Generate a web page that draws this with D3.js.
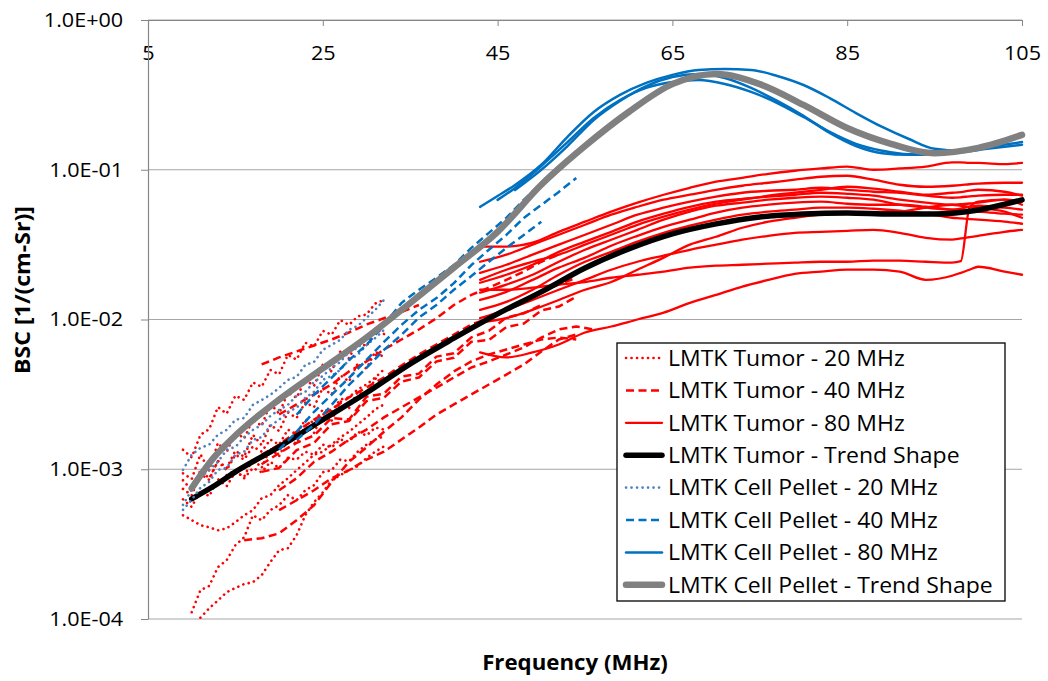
<!DOCTYPE html>
<html>
<head>
<meta charset="utf-8">
<script src="https://cdn.jsdelivr.net/npm/d3@7"></script>
<style>
  body { margin: 0; background: #fff; }
  text { font-family: "Open Sans", "Liberation Sans", sans-serif; fill: #000; }
</style>
</head>
<body>
<script>
// ---- data ----
var xTicks = [5, 25, 45, 65, 85, 105];
var yTicks = [1e-4, 1e-3, 1e-2, 1e-1, 1];
var yTickLabels = ["1.0E-04", "1.0E-03", "1.0E-02", "1.0E-01", "1.0E+00"];

var seriesNames = [
  "LMTK Tumor - 20 MHz",
  "LMTK Tumor - 40 MHz",
  "LMTK Tumor - 80 MHz",
  "LMTK Tumor - Trend Shape",
  "LMTK Cell Pellet - 20 MHz",
  "LMTK Cell Pellet - 40 MHz",
  "LMTK Cell Pellet - 80 MHz",
  "LMTK Cell Pellet - Trend Shape"
];

var tumor20Freq = [9, 10, 11, 12, 13, 14, 15, 16, 17, 18, 19, 20, 21, 22, 23, 24, 25, 26, 27, 28, 29, 30, 31, 32];
var tumor20 = [
  [null, 1.11e-4, 1.56e-4, 1.66e-4, 2.22e-4, 2.47e-4, 3.11e-4, 3.51e-4, 4.93e-4, 4.57e-4, 5.33e-4, 5.75e-4, 6.71e-4, 6.21e-4, 7.24e-4, 7.82e-4, 9.55e-4, 9.85e-4, 1.16e-3, 1.13e-3, 1.31e-3, 1.46e-3, 1.58e-3, 1.66e-3],
  [null, null, 1.02e-4, 1.18e-4, 1.33e-4, 1.51e-4, 1.61e-4, 1.71e-4, 1.76e-4, 1.96e-4, 2.40e-4, 2.88e-4, 2.97e-4, 3.62e-4, 4.93e-4, 6.03e-4, 7.02e-4, 8.45e-4, 9.12e-4, 9.85e-4, 1.05e-3, 1.19e-3, 1.31e-3, 1.42e-3],
  [4.93e-4, 4.57e-4, 4.23e-4, 4.10e-4, 3.91e-4, 4.03e-4, 4.43e-4, 4.93e-4, 5.33e-4, 6.40e-4, 6.71e-4, 7.82e-4, 8.70e-4, 9.85e-4, 1.11e-3, 1.25e-3, 1.31e-3, 1.46e-3, 1.63e-3, 1.78e-3, 1.99e-3, 2.22e-3, 2.51e-3, 2.71e-3],
  [1.35e-3, 1.20e-3, 1.70e-3, 1.85e-3, 2.60e-3, 2.35e-3, 3.10e-3, 2.90e-3, 3.80e-3, 3.55e-3, 4.60e-3, 4.30e-3, 5.80e-3, 5.40e-3, 7.00e-3, 6.60e-3, 8.40e-3, 7.90e-3, 9.90e-3, 9.20e-3, 1.05e-2, 1.08e-2, 1.28e-2, 1.35e-2],
  [9.40e-4, 8.60e-4, 1.26e-3, 9.80e-4, 1.50e-3, 1.30e-3, 1.78e-3, 1.60e-3, 2.15e-3, 1.95e-3, 2.75e-3, 2.35e-3, 3.25e-3, 3.00e-3, 3.95e-3, 3.60e-3, 5.00e-3, 4.50e-3, 6.10e-3, 5.50e-3, 7.20e-3, 6.60e-3, 8.70e-3, 8.00e-3],
  [7.40e-4, 6.70e-4, 9.30e-4, 8.50e-4, 1.14e-3, 1.02e-3, 1.33e-3, 1.21e-3, 1.70e-3, 1.45e-3, 1.98e-3, 1.80e-3, 2.40e-3, 2.20e-3, 2.80e-3, 2.60e-3, 3.50e-3, 3.15e-3, 4.25e-3, 3.85e-3, 5.10e-3, 4.70e-3, 6.10e-3, 5.60e-3],
  [6.30e-4, 5.60e-4, 7.20e-4, 6.60e-4, 8.60e-4, 7.70e-4, 9.60e-4, 8.90e-4, 1.18e-3, 1.02e-3, 1.38e-3, 1.22e-3, 1.60e-3, 1.48e-3, 1.95e-3, 1.75e-3, 2.35e-3, 2.10e-3, 2.85e-3, 2.55e-3, 3.30e-3, 3.05e-3, 4.05e-3, 3.70e-3],
  [8.45e-4, 7.24e-4, 9.85e-4, 8.70e-4, 1.13e-3, 9.85e-4, 1.25e-3, 1.16e-3, 1.42e-3, 1.31e-3, 1.58e-3, 1.46e-3, 1.84e-3, 1.71e-3, 2.15e-3, 2.05e-3, 2.51e-3, 2.43e-3, 2.92e-3, 3.02e-3, 3.41e-3, 3.68e-3, 4.10e-3, 4.64e-3],
  [null, null, null, null, null, 9.12e-4, 9.85e-4, 8.71e-4, 1.02e-3, 9.55e-4, 1.12e-3, 1.02e-3, 1.19e-3, 1.16e-3, 1.31e-3, 1.25e-3, 1.46e-3, 1.40e-3, 1.58e-3, 1.53e-3, 1.78e-3, 1.68e-3, 1.90e-3, 1.84e-3]
];

var tumor40Freq = [16, 18, 20, 22, 24, 26, 28, 30, 32, 34, 36, 38, 40, 42, 44, 46, 48, 50, 52, 54, 56];
var tumor40 = [
  [3.36e-4, 3.46e-4, 3.73e-4, 4.57e-4, 5.75e-4, 8.19e-4, 1.12e-3, 1.40e-3, 1.78e-3, 2.22e-3, 2.92e-3, 3.68e-3, 4.50e-3, 5.25e-3, 5.84e-3, 6.31e-3, 6.81e-3, 7.35e-3, 7.58e-3, 7.35e-3, null],
  [null, 5.01e-3, 5.58e-3, 6.12e-3, 6.71e-3, 7.35e-3, 8.19e-3, 9.26e-3, 1.02e-2, 1.12e-2, 1.25e-2, null, null, null, null, null, null, null, null, null, null],
  [null, null, 2.32e-3, 2.71e-3, 3.16e-3, 3.68e-3, 4.50e-3, 5.25e-3, 6.31e-3, 7.35e-3, 8.58e-3, 1.02e-2, 1.25e-2, 1.46e-2, 1.63e-2, 1.84e-2, 2.09e-2, 2.43e-2, 2.71e-2, null, null],
  [null, 1.25e-3, 1.46e-3, 1.78e-3, 2.15e-3, 2.51e-3, 3.02e-3, 3.51e-3, 4.10e-3, 4.93e-3, 5.84e-3, 6.81e-3, 7.94e-3, 9.26e-3, 1.02e-2, 1.16e-2, 1.35e-2, 1.53e-2, 1.71e-2, 1.90e-2, null],
  [null, 9.60e-4, 1.02e-3, 1.34e-3, 1.50e-3, 2.00e-3, 2.10e-3, 2.85e-3, 3.00e-3, 3.85e-3, 4.10e-3, 5.25e-3, 5.55e-3, 7.10e-3, 7.30e-3, 8.90e-3, 9.40e-3, 1.15e-2, 1.22e-2, 1.42e-2, null],
  [null, null, 7.24e-4, 8.71e-4, 1.12e-3, 1.31e-3, 1.58e-3, 1.84e-3, 2.22e-3, 2.59e-3, 3.02e-3, 3.51e-3, 4.10e-3, 4.78e-3, 5.25e-3, 5.84e-3, 6.50e-3, 7.58e-3, 8.58e-3, 8.98e-3, 8.58e-3],
  [null, null, 5.33e-4, 6.21e-4, 7.24e-4, 8.71e-4, 9.85e-4, 1.16e-3, 1.31e-3, 1.58e-3, 1.90e-3, 2.32e-3, 2.71e-3, 3.16e-3, 3.68e-3, 4.29e-3, 5.01e-3, 6.12e-3, 7.35e-3, 7.94e-3, null],
  [null, 1.08e-3, 1.28e-3, 1.50e-3, 1.68e-3, 2.20e-3, 2.15e-3, 3.05e-3, 3.20e-3, 4.15e-3, 4.35e-3, 5.65e-3, 5.95e-3, 7.60e-3, 8.40e-3, 1.03e-2, 1.10e-2, 1.25e-2, null, null, null]
];

var tumor80Freq = [43, 46, 49, 52, 55, 58, 61, 64, 67, 70, 73, 76, 79, 82, 85, 88, 91, 94, 97, 98, 99, 100, 103, 105];
var tumor80 = [
  [3.07e-2, 3.07e-2, 3.26e-2, 3.85e-2, 4.50e-2, 5.25e-2, 6.03e-2, 6.81e-2, 7.58e-2, 8.32e-2, 8.84e-2, 9.40e-2, 9.85e-2, 0.102, 0.105, 0.100, 0.102, 0.105, 0.112, 0.112, 0.111, 0.111, 0.109, 0.111],
  [2.43e-2, 2.71e-2, 3.16e-2, 3.68e-2, 4.29e-2, 5.01e-2, 5.66e-2, 6.31e-2, 6.81e-2, 7.35e-2, 7.82e-2, 8.19e-2, 8.58e-2, 8.98e-2, 9.12e-2, 8.58e-2, 7.94e-2, 7.70e-2, 7.82e-2, 7.90e-2, 8.00e-2, 8.07e-2, 8.19e-2, 8.19e-2],
  [2.05e-2, 2.32e-2, 2.71e-2, 3.16e-2, 3.68e-2, 4.29e-2, 5.01e-2, 5.58e-2, 6.12e-2, 6.61e-2, 7.02e-2, 7.24e-2, 7.35e-2, 7.58e-2, 7.35e-2, 7.13e-2, 7.02e-2, 6.71e-2, 6.50e-2, 6.55e-2, 6.65e-2, 6.71e-2, 6.81e-2, 6.81e-2],
  [1.76e-2, 1.99e-2, 2.32e-2, 2.83e-2, 3.31e-2, 3.85e-2, 4.50e-2, 5.09e-2, 5.66e-2, 6.12e-2, 6.40e-2, 6.61e-2, 6.81e-2, 7.02e-2, 6.91e-2, 6.71e-2, 6.31e-2, 6.03e-2, 5.84e-2, 5.90e-2, 5.95e-2, 6.03e-2, 6.31e-2, 6.12e-2],
  [1.51e-2, 1.71e-2, 1.99e-2, 2.43e-2, 2.92e-2, 3.41e-2, 3.97e-2, 4.64e-2, 5.25e-2, 5.75e-2, 6.03e-2, 6.31e-2, 6.50e-2, 6.61e-2, 6.50e-2, 6.31e-2, 5.84e-2, 5.58e-2, 5.41e-2, 5.50e-2, 5.65e-2, 5.75e-2, 5.58e-2, 5.41e-2],
  [1.35e-2, 1.53e-2, 1.84e-2, 2.22e-2, 2.59e-2, 3.11e-2, 3.62e-2, 4.16e-2, 4.64e-2, 5.17e-2, 5.58e-2, 5.84e-2, 6.03e-2, 6.12e-2, 5.93e-2, 5.84e-2, 5.84e-2, 5.66e-2, 5.41e-2, 5.35e-2, 5.30e-2, 5.25e-2, 5.09e-2, 5.01e-2],
  [1.58e-2, 1.58e-2, 1.63e-2, 1.71e-2, 1.78e-2, 1.90e-2, 1.99e-2, 2.09e-2, 2.22e-2, 2.29e-2, 2.32e-2, 2.36e-2, 2.40e-2, 2.43e-2, 2.43e-2, 2.47e-2, 2.47e-2, 2.43e-2, 2.40e-2, 2.45e-2, 5.60e-2, 6.12e-2, 6.31e-2, 5.84e-2],
  [1.02e-2, 1.16e-2, 1.35e-2, 1.58e-2, 1.84e-2, 2.15e-2, 2.43e-2, 2.67e-2, 2.92e-2, 3.16e-2, 3.41e-2, 3.62e-2, 3.79e-2, 3.85e-2, 3.91e-2, 3.97e-2, 3.79e-2, 3.51e-2, 3.41e-2, 3.48e-2, 3.55e-2, 3.62e-2, 3.85e-2, 3.97e-2],
  [6.03e-3, 5.58e-3, 6.03e-3, 6.81e-3, 8.19e-3, 8.98e-3, 1.00e-2, 1.11e-2, 1.29e-2, 1.46e-2, 1.66e-2, 1.84e-2, 2.02e-2, 2.09e-2, 2.15e-2, 2.15e-2, 2.09e-2, 1.84e-2, 1.96e-2, 2.05e-2, 2.15e-2, 2.25e-2, 2.09e-2, 1.99e-2],
  [9.55e-3, 1.02e-2, 1.16e-2, 1.35e-2, 1.58e-2, 1.78e-2, 2.15e-2, 2.59e-2, 3.16e-2, 3.57e-2, 4.10e-2, 4.50e-2, 4.78e-2, 5.01e-2, 5.17e-2, 5.17e-2, 5.25e-2, 5.58e-2, 5.84e-2, 5.75e-2, 5.65e-2, 5.58e-2, 5.25e-2, 4.78e-2],
  [1.84e-2, 2.15e-2, 2.43e-2, 2.71e-2, 3.16e-2, 3.68e-2, 4.29e-2, 4.86e-2, 5.41e-2, 5.93e-2, 6.31e-2, 6.71e-2, 7.02e-2, 7.35e-2, 7.70e-2, 7.47e-2, 7.13e-2, 6.81e-2, 7.02e-2, 7.10e-2, 7.25e-2, 7.35e-2, 7.13e-2, 6.71e-2],
  [1.16e-2, 1.31e-2, 1.58e-2, 1.99e-2, 2.43e-2, 2.83e-2, 3.31e-2, 3.79e-2, 4.23e-2, 4.64e-2, 5.01e-2, 5.25e-2, 5.41e-2, 5.58e-2, 5.58e-2, 5.49e-2, 5.33e-2, 5.09e-2, 4.78e-2, 4.73e-2, 4.68e-2, 4.64e-2, 4.50e-2, 4.36e-2]
];

var tumorTrendFreq = [10, 12.5, 15, 20, 25, 30, 35, 40, 45, 50, 55, 60, 65, 70, 75, 80, 85, 90, 95, 100, 105];
var tumorTrend = [6.34e-4, 7.70e-4, 9.60e-4, 1.41e-3, 2.14e-3, 3.24e-3, 5.06e-3, 7.50e-3, 1.09e-2, 1.53e-2, 2.21e-2, 2.96e-2, 3.73e-2, 4.35e-2, 4.84e-2, 5.07e-2, 5.15e-2, 5.07e-2, 5.07e-2, 5.39e-2, 6.29e-2];

var pellet20Freq = [9, 10, 11, 12, 13, 14, 15, 16, 17, 18, 19, 20, 21, 22, 23, 24, 25, 26, 27, 28, 29, 30, 31, 32];
var pellet20 = [
  [9.91e-4, 1.25e-3, 1.39e-3, 1.46e-3, 1.70e-3, 1.83e-3, 2.14e-3, 2.20e-3, 2.69e-3, 2.90e-3, 3.14e-3, 3.49e-3, 3.95e-3, 4.14e-3, 4.98e-3, 5.21e-3, 6.27e-3, 6.76e-3, 7.31e-3, 8.53e-3, 9.06e-3, 1.025e-2, 1.159e-2, 1.352e-2],
  [5.78e-4, 7.29e-4, 8.77e-4, 9.91e-4, 1.12e-3, 1.35e-3, 1.41e-3, 1.64e-3, 1.83e-3, 1.98e-3, 2.27e-3, 2.49e-3, 2.69e-3, 3.09e-3, 3.29e-3, 3.83e-3, 4.20e-3, 4.75e-3, 5.21e-3, 6.08e-3, 6.46e-3, 7.53e-3, 8.26e-3, 9.64e-3],
  [5.36e-4, 6.25e-4, 7.52e-4, 8.24e-4, 9.91e-4, 1.02e-3, 1.25e-3, 1.31e-3, 1.57e-3, 1.64e-3, 1.95e-3, 2.14e-3, 2.42e-3, 2.57e-3, 3.00e-3, 3.29e-3, 3.95e-3, 4.20e-3, 4.61e-3, 5.37e-3, 5.81e-3, 6.76e-3, 7.53e-3, 8.53e-3]
];

var pellet40Freq = [20, 22, 24, 26, 28, 30, 32, 34, 36, 38, 40, 42, 44, 46, 48, 50, 52, 54];
var pellet40 = [
  [null, 2.31e-3, 3.14e-3, 4.07e-3, 5.37e-3, 6.76e-3, 9.20e-3, 1.29e-2, 1.58e-2, 1.90e-2, 2.31e-2, 3.01e-2, 3.79e-2, 4.77e-2, 6.29e-2, 8.17e-2, null, null],
  [1.35e-3, 1.78e-3, 2.42e-3, 3.14e-3, 4.07e-3, 5.37e-3, 7.08e-3, 9.20e-3, 1.16e-2, 1.39e-2, 1.75e-2, 2.31e-2, 2.92e-2, 3.67e-2, 4.77e-2, 5.82e-2, 7.11e-2, 8.81e-2],
  [null, 1.57e-3, 1.98e-3, 2.69e-3, 3.66e-3, 4.75e-3, 6.27e-3, 7.89e-3, 1.03e-2, 1.25e-2, 1.58e-2, 1.95e-2, 2.43e-2, 3.01e-2, 3.67e-2, 4.49e-2, null, null]
];

var pellet80Freq = [43, 45, 47, 50, 53, 56, 59, 62, 65, 68, 71, 74, 77, 80, 83, 86, 89, 92, 95, 98, 101, 105];
var pellet80 = [
  [0.0565, 0.0668, 0.0792, 0.108, 0.166, 0.243, 0.316, 0.380, 0.430, 0.464, 0.471, 0.464, 0.423, 0.368, 0.301, 0.239, 0.193, 0.161, 0.138, 0.134, 0.142, 0.171],
  [null, 0.0629, 0.0756, 0.106, 0.153, 0.222, 0.292, 0.352, 0.385, 0.397, 0.374, 0.331, 0.279, 0.225, 0.179, 0.149, 0.134, 0.127, 0.127, 0.131, 0.138, 0.147],
  [null, null, 0.0733, 0.100, 0.144, 0.215, 0.288, 0.362, 0.416, 0.436, 0.410, 0.352, 0.288, 0.229, 0.176, 0.144, 0.129, 0.126, 0.127, 0.134, 0.142, 0.153]
];

var pelletTrendFreq = [10, 12.5, 15, 20, 25, 30, 35, 40, 45, 50, 55, 60, 65, 70, 75, 80, 85, 90, 95, 100, 105];
var pelletTrend = [7.47e-4, 1.19e-3, 1.68e-3, 2.92e-3, 4.71e-3, 7.58e-3, 1.29e-2, 2.22e-2, 3.85e-2, 7.94e-2, 0.144, 0.243, 0.373, 0.436, 0.373, 0.271, 0.190, 0.149, 0.129, 0.140, 0.171];

// ---- layout ----
var W = 1048, H = 681;
var plot = { left: 148, right: 1022, top: 20, bottom: 619 };

var svg = d3.select('body').append('svg')
  .attr('width', W)
  .attr('height', H);

var x = d3.scaleLinear().domain([5, 105]).range([plot.left, plot.right]);
var y = d3.scaleLog().domain([1e-4, 1]).range([plot.bottom, plot.top]);

// horizontal gridlines
svg.append('g').selectAll('line')
  .data(yTicks)
  .enter().append('line')
  .attr('x1', plot.left).attr('x2', plot.right)
  .attr('y1', d => y(d)).attr('y2', d => y(d))
  .attr('stroke', '#a6a6a6')
  .attr('stroke-width', 1.2);

// x axis sits on top of the plot, ticks point down
var xAxis = d3.axisBottom(x).tickValues(xTicks).tickSize(6).tickSizeOuter(0).tickPadding(20);
var gx = svg.append('g')
  .attr('transform', 'translate(0,' + plot.top + ')')
  .call(xAxis);
gx.select('.domain').attr('stroke', '#868686').attr('stroke-width', 1.2);
gx.selectAll('.tick line').attr('stroke', '#868686');
gx.selectAll('.tick text')
  .style('font-size', '20px')
  .attr('transform', 'scale(1.08,1)');

// y axis
var yAxis = d3.axisLeft(y).tickValues(yTicks).tickSize(7).tickSizeOuter(0).tickPadding(16)
  .tickFormat((d, i) => yTickLabels[i]);
var gy = svg.append('g')
  .attr('transform', 'translate(' + plot.left + ',0)')
  .call(yAxis);
gy.select('.domain').attr('stroke', '#868686').attr('stroke-width', 1.2);
gy.selectAll('.tick line').attr('stroke', '#868686');
gy.selectAll('.tick text')
  .style('font-size', '20px')
  .attr('transform', 'scale(1.08,1)');

// axis titles
svg.append('text')
  .attr('transform', 'translate(575,670) scale(1.06,1)')
  .attr('text-anchor', 'middle')
  .style('font-size', '21px').style('font-weight', 'bold')
  .text('Frequency (MHz)');

svg.append('text')
  .attr('transform', 'translate(30,290) rotate(-90) scale(1.1,1)')
  .attr('text-anchor', 'middle')
  .style('font-size', '21px').style('font-weight', 'bold')
  .text('BSC [1/(cm-Sr)]');

// ---- series ----
var styles = [
  { color: '#ff0000', width: 2.6, dash: '0.1 5.4', cap: 'round', smooth: false },
  { color: '#ff0000', width: 2.5, dash: '8 4.5', cap: 'butt', smooth: false },
  { color: '#ff0000', width: 2.3, dash: null, cap: 'round', smooth: true },
  { color: '#000000', width: 5.5, dash: null, cap: 'round', smooth: true },
  { color: '#4f81bd', width: 2.6, dash: '0.1 5.4', cap: 'round', smooth: false },
  { color: '#0070c0', width: 2.5, dash: '8 4.5', cap: 'butt', smooth: false },
  { color: '#0070c0', width: 2.5, dash: null, cap: 'round', smooth: true },
  { color: '#808080', width: 6.5, dash: null, cap: 'round', smooth: true }
];

var groups = [
  { freq: tumor20Freq, curves: tumor20 },
  { freq: tumor40Freq, curves: tumor40 },
  { freq: tumor80Freq, curves: tumor80 },
  { freq: tumorTrendFreq, curves: [tumorTrend] },
  { freq: pellet20Freq, curves: pellet20 },
  { freq: pellet40Freq, curves: pellet40 },
  { freq: pellet80Freq, curves: pellet80 },
  { freq: pelletTrendFreq, curves: [pelletTrend] }
];

var lineStraight = d3.line()
  .defined(d => d[1] != null)
  .x(d => x(d[0]))
  .y(d => y(d[1]));
var lineSmooth = d3.line()
  .defined(d => d[1] != null)
  .x(d => x(d[0]))
  .y(d => y(d[1]))
  .curve(d3.curveMonotoneX);

groups.forEach(function (g, gi) {
  var st = styles[gi];
  var layer = svg.append('g').attr('class', 'series-' + gi);
  g.curves.forEach(function (c) {
    var pts = g.freq.map((f, i) => [f, c[i]]);
    layer.append('path')
      .datum(pts)
      .attr('d', st.smooth ? lineSmooth : lineStraight)
      .attr('fill', 'none')
      .attr('stroke', st.color)
      .attr('stroke-width', st.width)
      .attr('stroke-linecap', st.cap)
      .attr('stroke-linejoin', 'round')
      .attr('stroke-dasharray', st.dash);
  });
});

// ---- legend ----
var legend = svg.append('g').attr('transform', 'translate(617,343)');
legend.append('rect')
  .attr('width', 388).attr('height', 258)
  .attr('fill', '#fff')
  .attr('stroke', '#000')
  .attr('stroke-width', 1.3);

var rowH = 32.4;
seriesNames.forEach(function (name, i) {
  var st = styles[i];
  var cy = 15 + i * rowH;
  legend.append('line')
    .attr('x1', 9).attr('x2', 45)
    .attr('y1', cy).attr('y2', cy)
    .attr('stroke', st.color)
    .attr('stroke-width', st.width)
    .attr('stroke-linecap', st.cap)
    .attr('stroke-dasharray', st.dash);
  legend.append('text')
    .attr('transform', 'translate(51,' + cy + ') scale(1.07,1)')
    .attr('dy', '0.36em')
    .style('font-size', '21.5px')
    .text(name);
});
</script>
</body>
</html>
